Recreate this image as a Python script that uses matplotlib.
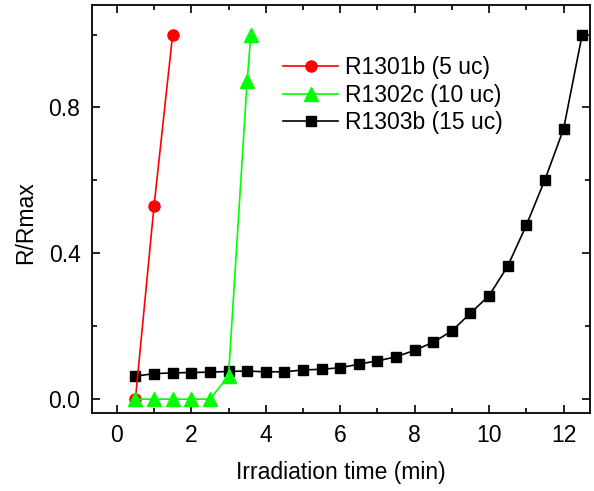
"""Normalized resistance vs irradiation time for three samples."""

import matplotlib

matplotlib.use("Agg")
import matplotlib.pyplot as plt
from matplotlib.ticker import MultipleLocator

# R1301b (5 uc)
time_5uc = [0.5, 1.0, 1.5]
r_5uc = [0.0, 0.530, 1.0]

# R1302c (10 uc)
time_10uc = [0.5, 1.0, 1.5, 2.0, 2.5, 3.0, 3.5, 3.6]
r_10uc = [0.0, 0.0, 0.0, 0.0, 0.0, 0.063, 0.872, 1.0]

# R1303b (15 uc)
time_15uc = [0.5, 1.0, 1.5, 2.0, 2.5, 3.0, 3.5, 4.0, 4.5, 5.0, 5.5, 6.0, 6.5,
             7.0, 7.5, 8.0, 8.5, 9.0, 9.5, 10.0, 10.5, 11.0, 11.5, 12.0, 12.5]
r_15uc = [0.063, 0.070, 0.072, 0.073, 0.074, 0.076, 0.077, 0.075, 0.075, 0.080,
          0.082, 0.086, 0.096, 0.105, 0.116, 0.134, 0.156, 0.187, 0.236, 0.284,
          0.365, 0.477, 0.602, 0.741, 1.0]

labels = ["R1301b (5 uc)", "R1302c (10 uc)", "R1303b (15 uc)"]

plt.rcParams["font.family"] = ["Liberation Sans", "DejaVu Sans"]
plt.rcParams["font.size"] = 16.5

fig = plt.figure(figsize=(5.94, 4.91), dpi=100)
ax = fig.add_axes([91.5 / 594, 1 - 413 / 491, 498.5 / 594, 408 / 491])

ax.plot(time_5uc, r_5uc, color="#ff0000", lw=1.2, marker="o", ms=8,
        label=labels[0], zorder=3)
ax.plot(time_10uc, r_10uc, color="#00ff00", lw=1.2, marker="^", ms=9.5,
        label=labels[1], zorder=4)
ax.plot(time_15uc, r_15uc, color="black", lw=1.2, marker="s", ms=7.5,
        label=labels[2], zorder=2)

ax.set_xlim(-0.68, 12.71)
ax.set_ylim(-0.038, 1.081)
ax.xaxis.set_major_locator(MultipleLocator(2))
ax.xaxis.set_minor_locator(MultipleLocator(1))
ax.yaxis.set_major_locator(MultipleLocator(0.4))
ax.yaxis.set_minor_locator(MultipleLocator(0.2))
ax.tick_params(which="both", direction="in", top=True, right=True, width=1.2)
ax.tick_params(which="major", length=6, pad=8)
ax.tick_params(which="minor", length=3.5)
for spine in ax.spines.values():
    spine.set_linewidth(1.3)

ax.set_xlabel("Irradiation time (min)", labelpad=10)
ax.set_ylabel("R/Rmax")
ax.yaxis.set_label_coords(-0.11, 0.466)

ax.legend(loc="upper left", bbox_to_anchor=(283 / 594, 1 - 56 / 491),
          bbox_transform=fig.transFigure, frameon=False, borderpad=0,
          borderaxespad=0, handlelength=2.4, handletextpad=0.3,
          labelspacing=0.2)

fig.savefig("out.png", dpi=100)
